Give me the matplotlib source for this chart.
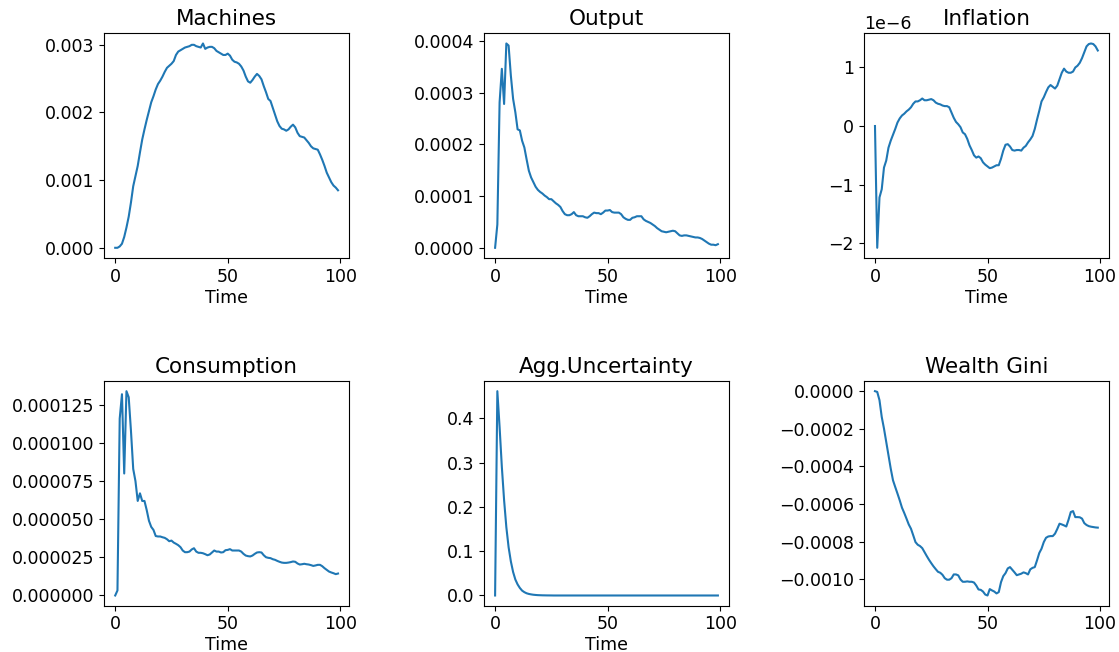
import numpy as np
import matplotlib
matplotlib.use("Agg")
import matplotlib.pyplot as plt

# impulse responses, t = 0..99
TIME = np.arange(100)

MACHINES = [
    0.0, 0.0, 0.00002, 0.00006, 0.00016, 0.0003, 0.00046, 0.00067, 0.00091, 0.00106,
    0.00121, 0.00141, 0.0016, 0.00175, 0.00189, 0.00202, 0.00215, 0.00224, 0.00234, 0.00242,
    0.00247, 0.00253, 0.0026, 0.00266, 0.00269, 0.00272, 0.00276, 0.00285, 0.0029, 0.00292,
    0.00294, 0.00296, 0.00297, 0.00298, 0.003, 0.003, 0.00298, 0.00297, 0.00296, 0.00302,
    0.00294, 0.00296, 0.00297, 0.00297, 0.00295, 0.00291, 0.00289, 0.00287, 0.00285, 0.00285,
    0.00287, 0.00284, 0.00278, 0.00275, 0.00274, 0.00272, 0.00268, 0.00262, 0.00253, 0.00246,
    0.00244, 0.00248, 0.00253, 0.00257, 0.00254, 0.00249, 0.00239, 0.0023, 0.0022, 0.00217,
    0.00207, 0.00197, 0.00187, 0.0018, 0.00176, 0.00175, 0.00173, 0.00175, 0.00179, 0.00182,
    0.00178, 0.0017, 0.00165, 0.00164, 0.00163, 0.00159, 0.00155, 0.0015, 0.00147, 0.00146,
    0.00145, 0.00138, 0.0013, 0.00121, 0.00111, 0.00104, 0.00097, 0.00092, 0.00089, 0.00085,
]

OUTPUT = [
    0.0, 0.45, 2.81, 3.46, 2.78, 3.95, 3.91, 3.33, 2.88, 2.62,
    2.29, 2.27, 2.07, 1.94, 1.71, 1.49, 1.36, 1.27, 1.18, 1.12,
    1.08, 1.05, 1.01, 0.98, 0.94, 0.94, 0.90, 0.86, 0.83, 0.79,
    0.71, 0.65, 0.63, 0.63, 0.65, 0.69, 0.63, 0.61, 0.61, 0.61,
    0.59, 0.58, 0.61, 0.65, 0.68, 0.67, 0.67, 0.65, 0.68, 0.72,
    0.72, 0.73, 0.69, 0.68, 0.68, 0.68, 0.65, 0.59, 0.56, 0.54,
    0.54, 0.58, 0.59, 0.61, 0.61, 0.61, 0.55, 0.52, 0.50, 0.48,
    0.45, 0.42, 0.38, 0.35, 0.32, 0.31, 0.30, 0.31, 0.32, 0.33,
    0.32, 0.28, 0.24, 0.23, 0.24, 0.24, 0.23, 0.22, 0.21, 0.20,
    0.20, 0.19, 0.17, 0.14, 0.11, 0.08, 0.06, 0.06, 0.05, 0.07,
]  # x 1e-4

INFLATION = [
    0.0, -2.08, -1.22, -1.08, -0.71, -0.59, -0.37, -0.25, -0.15, -0.05,
    0.06, 0.13, 0.18, 0.21, 0.25, 0.28, 0.32, 0.38, 0.42, 0.42,
    0.44, 0.47, 0.44, 0.44, 0.45, 0.46, 0.44, 0.40, 0.38, 0.37,
    0.35, 0.34, 0.34, 0.32, 0.23, 0.14, 0.07, 0.03, -0.02, -0.11,
    -0.14, -0.22, -0.33, -0.41, -0.50, -0.54, -0.52, -0.55, -0.62, -0.66,
    -0.69, -0.72, -0.71, -0.69, -0.67, -0.67, -0.56, -0.42, -0.32, -0.31,
    -0.35, -0.41, -0.42, -0.41, -0.41, -0.42, -0.37, -0.34, -0.28, -0.23,
    -0.17, -0.05, 0.11, 0.26, 0.42, 0.49, 0.58, 0.66, 0.70, 0.67,
    0.64, 0.69, 0.80, 0.91, 0.98, 0.93, 0.91, 0.91, 0.93, 1.00,
    1.03, 1.08, 1.16, 1.26, 1.36, 1.40, 1.41, 1.40, 1.36, 1.29,
]  # x 1e-6

CONSUMPTION = [
    0.0, 3.3, 116, 132, 80, 134, 130, 108, 83, 75,
    62, 67, 62, 62, 56, 49, 45, 43, 39, 38.7,
    38.7, 38.2, 37.8, 36.9, 35.6, 36, 34.7, 33.9, 33, 31.7,
    29.5, 28.4, 28.4, 28.8, 30.2, 31, 28.8, 28, 28, 27.7,
    27.1, 26.4, 26.9, 28.2, 29.5, 28.8, 28.8, 28.2, 28.4, 29.7,
    29.9, 30.4, 29.5, 29.5, 29.5, 29.5, 28.8, 27.3, 26.2, 25.8,
    25.6, 26.2, 27.3, 28.2, 28.4, 28.2, 26.4, 25.1, 24.7, 24.5,
    23.8, 23.4, 22.7, 22.1, 21.6, 21.4, 21.4, 21.6, 21.9, 22.3,
    22.1, 21.0, 20.3, 20.5, 20.8, 20.5, 20.3, 19.9, 19.4, 19.7,
    20.1, 20.1, 19.2, 17.9, 16.8, 15.7, 15.1, 14.6, 14.0, 14.4,
]  # x 1e-6

UNCERTAINTY = [
    0.0, 0.461, 0.38, 0.29, 0.215, 0.154, 0.109, 0.077, 0.053, 0.036,
    0.025, 0.017, 0.011, 0.0075, 0.005, 0.0035, 0.0025, 0.0017, 0.0012, 0.0008,
    0.0006, 0.0004, 0.0003, 0.0002, 0.00015, 0.0001, 0.0, 0.0, 0.0, 0.0,
    0.0, 0.0, 0.0, 0.0, 0.0, 0.0, 0.0, 0.0, 0.0, 0.0,
    0.0, 0.0, 0.0, 0.0, 0.0, 0.0, 0.0, 0.0, 0.0, 0.0,
    0.0, 0.0, 0.0, 0.0, 0.0, 0.0, 0.0, 0.0, 0.0, 0.0,
    0.0, 0.0, 0.0, 0.0, 0.0, 0.0, 0.0, 0.0, 0.0, 0.0,
    0.0, 0.0, 0.0, 0.0, 0.0, 0.0, 0.0, 0.0, 0.0, 0.0,
    0.0, 0.0, 0.0, 0.0, 0.0, 0.0, 0.0, 0.0, 0.0, 0.0,
    0.0, 0.0, 0.0, 0.0, 0.0, 0.0, 0.0, 0.0, 0.0, 0.0,
]

WEALTH_GINI = [
    0.0, -0.04, -0.48, -1.37, -1.99, -2.70, -3.41, -4.12, -4.74, -5.10,
    -5.45, -5.81, -6.20, -6.48, -6.78, -7.09, -7.32, -7.67, -8.03, -8.17,
    -8.24, -8.35, -8.56, -8.77, -8.97, -9.15, -9.32, -9.47, -9.61, -9.66,
    -9.77, -9.95, -10.03, -10.03, -9.95, -9.75, -9.75, -9.80, -10.02, -10.14,
    -10.14, -10.12, -10.14, -10.14, -10.18, -10.34, -10.55, -10.57, -10.66, -10.82,
    -10.87, -10.53, -10.60, -10.66, -10.76, -10.69, -10.16, -9.84, -9.68, -9.43,
    -9.36, -9.50, -9.64, -9.79, -9.75, -9.71, -9.64, -9.68, -9.75, -9.48,
    -9.40, -9.36, -9.00, -8.61, -8.38, -8.03, -7.80, -7.73, -7.71, -7.71,
    -7.58, -7.33, -7.05, -7.09, -7.14, -7.20, -6.84, -6.43, -6.38, -6.70,
    -6.70, -6.71, -6.78, -7.02, -7.12, -7.18, -7.21, -7.23, -7.25, -7.26,
]  # x 1e-4

TITLES = ["Machines", "Output", "Inflation", "Consumption", "Agg.Uncertainty", "Wealth Gini"]
SERIES = [
    np.array(MACHINES),
    np.array(OUTPUT) * 1e-4,
    np.array(INFLATION) * 1e-6,
    np.array(CONSUMPTION) * 1e-6,
    np.array(UNCERTAINTY),
    np.array(WEALTH_GINI) * 1e-4,
]
XLABELS = ["Time", "Time", "Time", "Time", "Time", None]

fig, axes = plt.subplots(2, 3, figsize=(11.19, 6.52), dpi=100)
fig.subplots_adjust(left=0.093, right=0.991, bottom=0.071, top=0.949,
                    wspace=0.55, hspace=0.547)

for ax, title, y, xl in zip(axes.flat, TITLES, SERIES, XLABELS):
    ax.plot(TIME, y, color="#1f77b4", lw=1.5)
    ax.set_title(title, fontsize=15.5)
    if xl:
        ax.set_xlabel(xl, fontsize=12.5, labelpad=2)
    ax.tick_params(labelsize=12.5)
    ax.yaxis.get_offset_text().set_fontsize(12.5)
    ax.set_xticks([0, 50, 100])

fig.savefig("out.png", dpi=100)
